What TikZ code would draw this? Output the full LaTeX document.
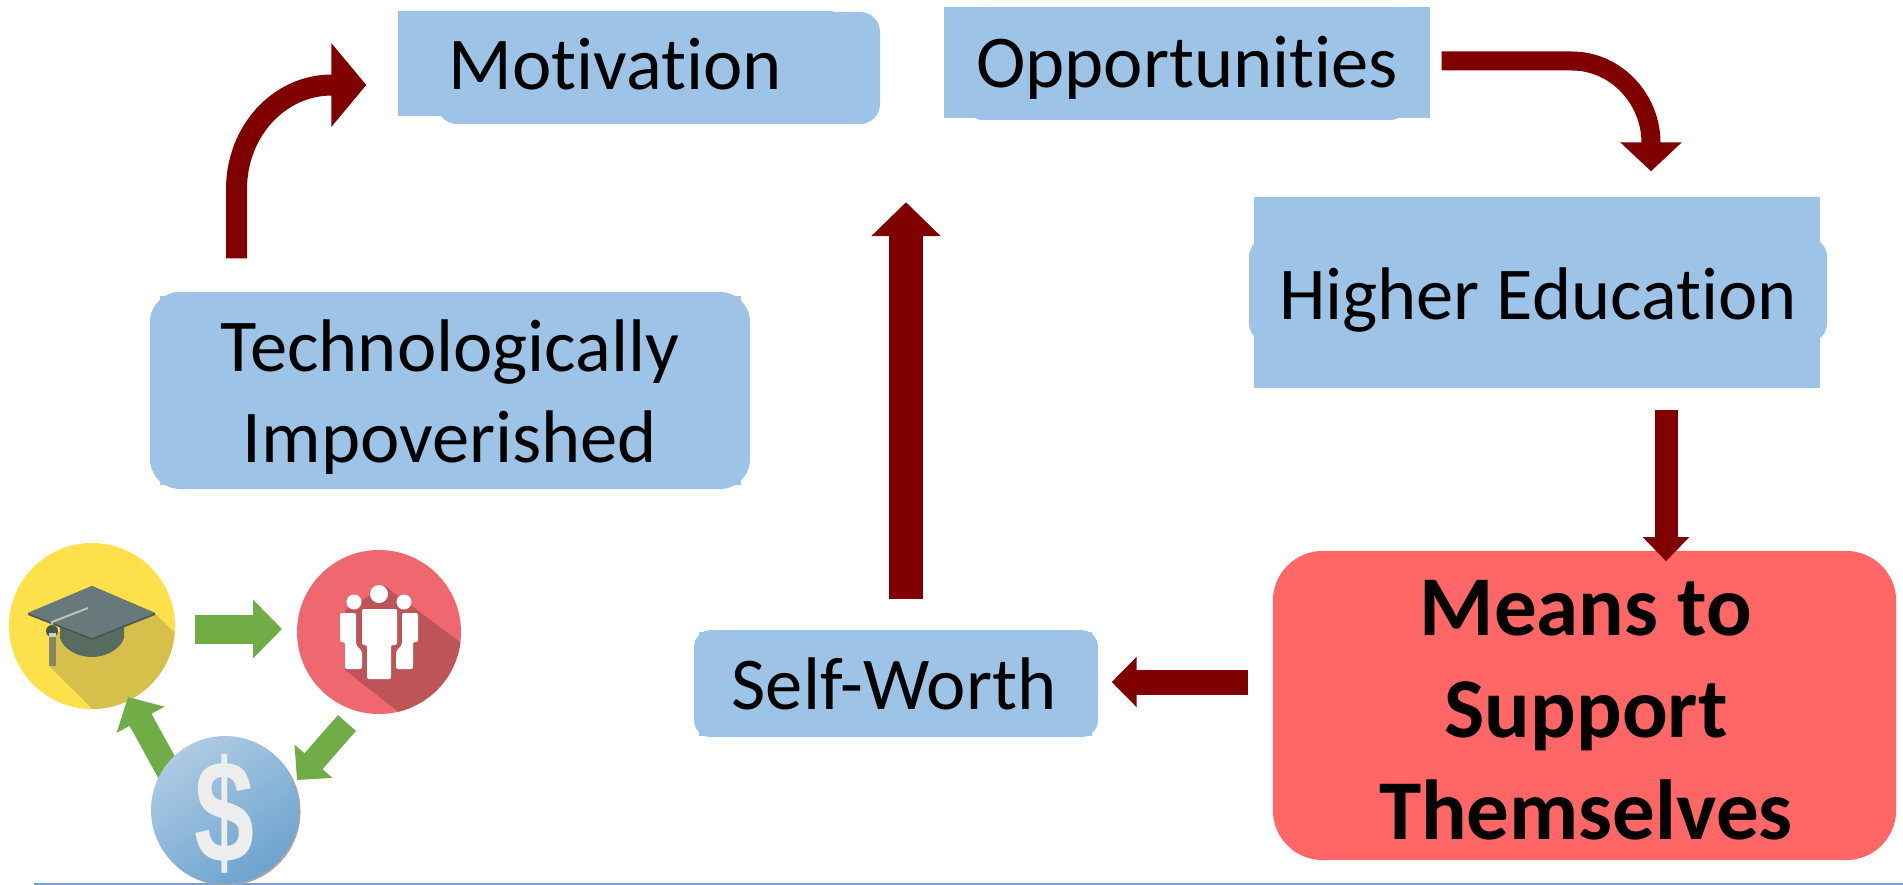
\documentclass[tikz,border=0pt]{standalone}
\usepackage{fontspec}
\setmainfont[Ligatures=NoCommon]{Carlito}
\newfontfamily\dollarfont{Liberation Sans}
\usetikzlibrary{arrows.meta,calc}

\definecolor{boxblue}{HTML}{9DC3E6}
\definecolor{boxred}{HTML}{FF6666}
\definecolor{arrowred}{HTML}{800000}
\definecolor{arrowgreen}{HTML}{70AD47}
\definecolor{capyellow}{HTML}{FDE04A}
\definecolor{capshadow}{HTML}{D6BF4B}
\definecolor{capgrey}{HTML}{67797A}
\definecolor{capdark}{HTML}{586B60}
\definecolor{peoplered}{HTML}{EF6870}
\definecolor{peopleshadow}{HTML}{BE5457}
\definecolor{coinlight}{HTML}{AECAE4}
\definecolor{coindark}{HTML}{6CA3CE}
\definecolor{ruleblue}{HTML}{7C9BD3}

\tikzset{
	plainbox/.style 2 args={fill=boxblue, inner sep=0pt, minimum width=#1*0.01cm, minimum height=#2*0.01cm},
	boxtext/.style={inner sep=0pt, font=\fontsize{21.2}{26}\selectfont, align=center},
	blockarrow/.style n args={3}{line width=#1*0.01cm, -{Triangle[length=#2*0.01cm, width=#3*0.01cm]}},
	icon/.style={circle, inner sep=0pt, minimum size=#1*0.01cm},
}

\begin{document}
\begin{tikzpicture}[x=0.01cm, y=-0.01cm]
	\useasboundingbox (0,0) rectangle (1903,885);

	% Blue boxes, each a plain rectangle under a rounded one
	\node[plainbox={435}{105}] (motivationback) at (615.5,63.5) {};
	\node[plainbox={443}{112}, rounded corners=0.2cm] (motivation) at (658.5,68) {};
	\node[plainbox={486}{111}] (opportunitiesback) at (1187,62.5) {};
	\node[plainbox={431}{113}, rounded corners=0.1cm] (opportunities) at (1186.5,63.5) {};
	\node[plainbox={566}{191}] (higherback) at (1537,292.5) {};
	\node[plainbox={578}{106}, rounded corners=0.2cm] (higher) at (1538,290) {};
	\node[plainbox={581}{189}] (techback) at (450.5,390.5) {};
	\node[plainbox={600}{197}, rounded corners=0.3cm] (tech) at (450,390.5) {};
	\node[plainbox={393}{104}] (selfback) at (895.5,684) {};
	\node[plainbox={404}{107}, rounded corners=0.17cm] (self) at (896,683.5) {};

	% Red box
	\node[fill=boxred, inner sep=0pt, minimum width=6.23cm, minimum height=3.09cm, rounded corners=0.5cm] (means) at (1584.5,705.5) {};

	% Box labels
	\node[boxtext, anchor=base] (motivationtext) at (615,90) {Motivation};
	\node[boxtext, anchor=base] (opportunitiestext) at (1187,88) {Opportunities};
	\node[boxtext, anchor=base] (highertext) at (1538,319) {Higher Education};
	\node[boxtext] (techtext) at (450,397) {Technologically\\Impoverished};
	\node[boxtext, anchor=base] (selftext) at (894,709) {Self-Worth};
	\node[inner sep=0pt, align=center, font=\fontsize{24.2}{29}\bfseries\selectfont] (meanstext) at (1586,710) {Means to\\Support\\Themselves};

	% Dark red arrows of the main cycle
	\draw[arrowred, blockarrow={21}{35}{82}] ($(tech.north)+(-213.5,-33)$) -- ++(0,-69) .. controls +(0,-58) and (279,85) .. (332,85) -- ($(motivationback.west)+(-31,21.5)$);
	\draw[arrowred, blockarrow={19}{29}{60}] ($(opportunitiesback.east)+(11,-1.5)$) -- (1572,61) .. controls (1615,61) and (1651,98) .. (1651,143) -- ($(higherback.north)+(114,-25)$);
	\draw[arrowred, blockarrow={23}{24}{45}] ($(higherback.south)+(129,21)$) -- ($(means.north)+(81.5,11)$);
	\draw[arrowred, blockarrow={25}{25}{49}] ($(means.west)+(-24,-23.5)$) -- ($(self.east)+(13,-1.5)$);
	\draw[arrowred, blockarrow={34}{34}{67.5}] ($(self.north)+(10,-30)$) -- ($(motivation.south)+(247.5,77.5)$);

	% Rule along the bottom
	\coordinate (rulestart) at (34,884);
	\coordinate (ruleend) at (1903,884);
	\draw[ruleblue, line width=0.03cm] (rulestart) -- (ruleend);

	% Graduation cap icon
	\node[icon=166, fill=capyellow] (capicon) at (92,626) {};
	\begin{scope}
		\clip (capicon) circle[radius=0.83cm];
		\fill[capshadow] (155,613) -- (274,732) -- (140,756) -- (49,666) -- (49,630) -- (92,638) -- cycle;
	\end{scope}
	\fill[capdark] (60,625) -- (124,625) -- (124,638) .. controls (120,650) and (105,657) .. (92,657) .. controls (78,657) and (64,650) .. (60,638) -- cycle;
	\fill[capdark!85!black] (92,586) -- (155,613) -- (155,615) -- (92,640) -- (28,615) -- (28,613) -- cycle;
	\fill[capgrey] (92,586) -- (155,613) -- (92,638) -- (28,613) -- cycle;
	\draw[gray!50, line width=0.02cm] (88,608) -- (52,622) -- (52,628);
	\fill[capdark!80!black] (52,631) circle[radius=0.06cm];
	\fill[gray!40] (49,633) rectangle (56,637);
	\fill[capdark!75!capyellow] (49,637) rectangle (56,666);

	% People icon
	\node[icon=164, fill=peoplered] (peopleicon) at (379,632) {};
	\begin{scope}
		\clip (peopleicon) circle[radius=0.82cm];
		\fill[peopleshadow] (345,670) -- (447,750) -- (500,672) -- (385,586) -- (362,600) -- (345,610) -- cycle;
	\end{scope}
	\fill[white] (379,594) circle[radius=0.09cm] (354,602) circle[radius=0.075cm] (404,602) circle[radius=0.075cm];
	\fill[white, rounded corners=0.02cm] (340,642) -- (340,613) -- (356,613) -- (356,645) -- (362,651) -- (362,669) -- (345,669) -- (345,642) -- cycle;
	\fill[white, rounded corners=0.02cm] (418,642) -- (418,613) -- (402,613) -- (402,645) -- (396,651) -- (396,669) -- (413,669) -- (413,642) -- cycle;
	\fill[white, rounded corners=0.02cm] (362,645) -- (362,609) -- (397,609) -- (397,645) -- (391,645) -- (391,679) -- (367,679) -- (367,645) -- cycle;

	% Spot of the dollar coin, which is drawn over the end of its arrow
	\coordinate (coinspot) at (225,810);

	% Green arrows between the icons
	\draw[arrowgreen, blockarrow={29}{29}{57}] ($(capicon)+(103,3)$) -- ($(peopleicon)+(-97,-3)$);
	\draw[arrowgreen, blockarrow={24}{25}{49}] ($(peopleicon)+(-32,91)$) -- ($(coinspot)+(72,-30)$);
	\draw[arrowgreen, blockarrow={25}{26}{53}] ($(coinspot)+(-42,-13)$) -- ($(capicon)+(36,71)$);

	% Dollar coin icon
	\fill[gray!70] ($(coinspot)+(1.5,1.5)$) circle[radius=0.74cm];
	\node[icon=148, top color=coinlight, bottom color=coindark, shading angle=35] (coinicon) at (coinspot) {};
	\node[inner sep=0pt, text=white!93!black, font=\dollarfont\fontsize{37}{37}\bfseries\selectfont] (cointext) at (225,814) {\scalebox{0.83}[1.12]{\$}};
\end{tikzpicture}
\end{document}
